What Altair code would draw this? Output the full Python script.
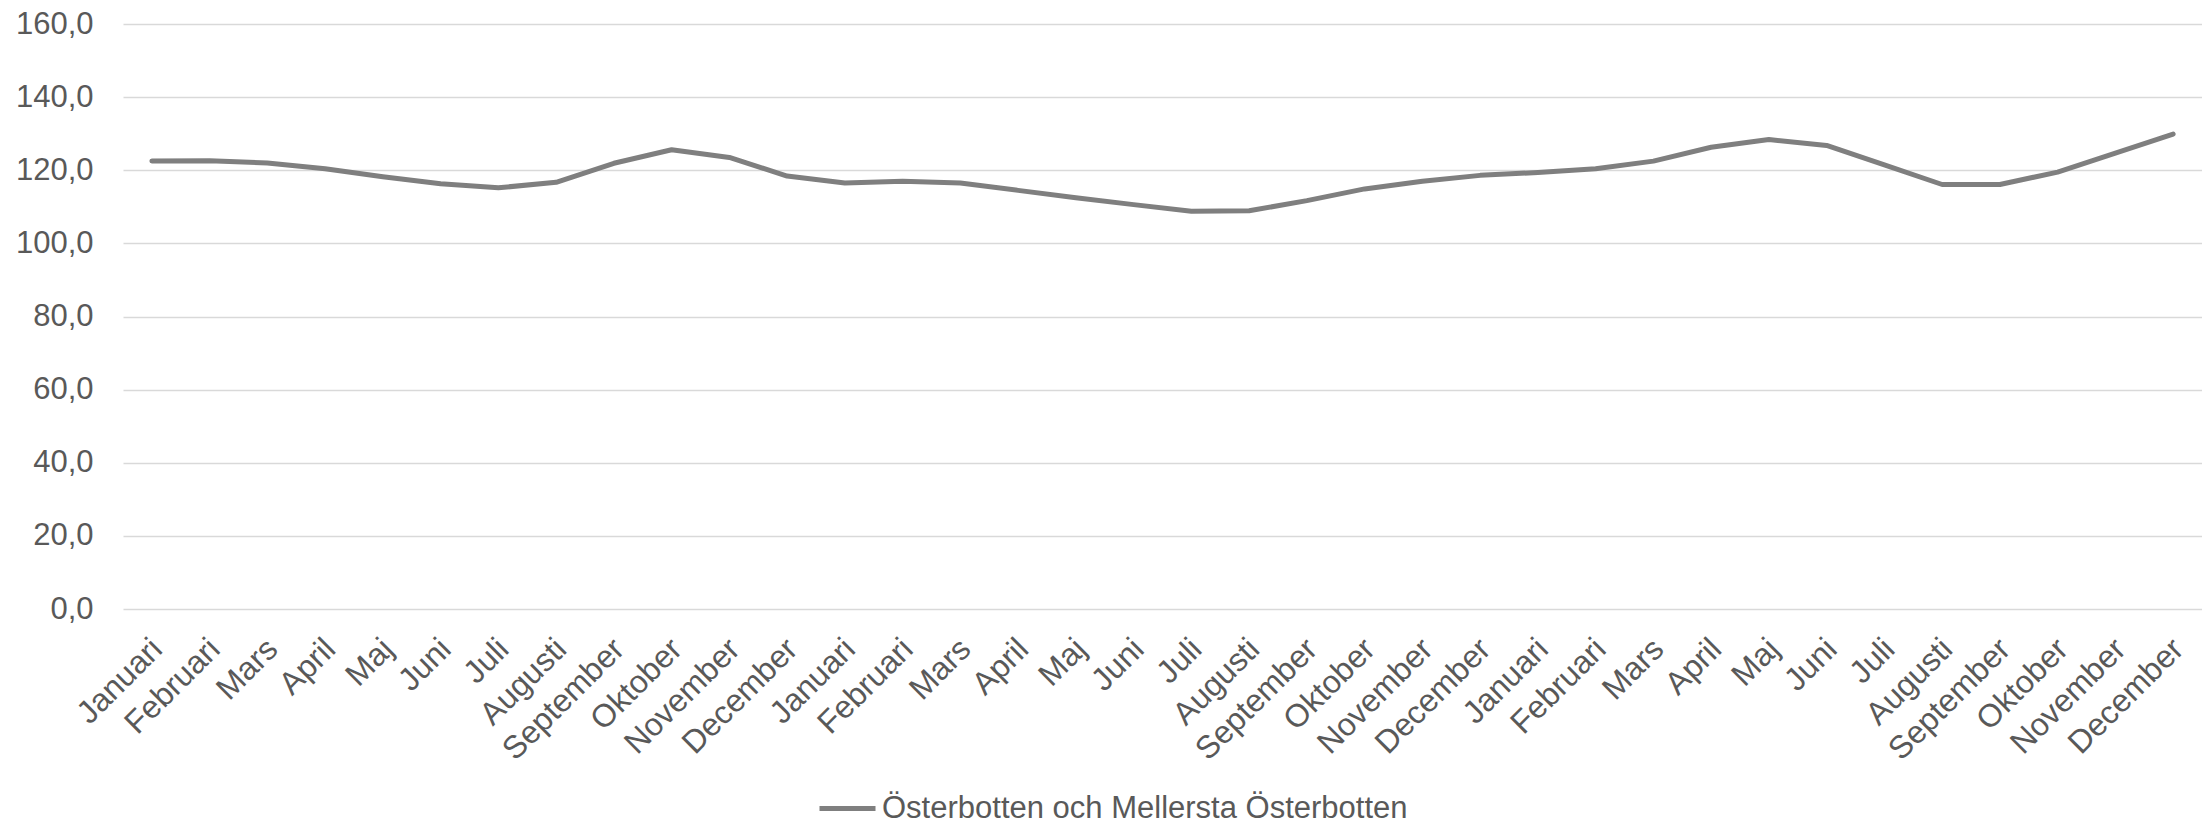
import altair as alt
import pandas as pd

months = ["Januari", "Februari", "Mars", "April", "Maj", "Juni", "Juli",
          "Augusti", "September", "Oktober", "November", "December"]
labels = months * 3
values = [122.5, 122.6, 122.0, 120.4, 118.2, 116.3, 115.2, 116.7, 121.9, 125.6, 123.5, 118.4,
          116.5, 117.0, 116.5, 114.5, 112.5, 110.6, 108.8, 108.9, 111.7, 114.9, 117.0, 118.6,
          119.4, 120.4, 122.5, 126.3, 128.4, 126.8, 121.5, 116.1, 116.1, 119.5, 124.7, 129.9]
series_name = "Österbotten och Mellersta Österbotten"
y_ticks = [0, 20, 40, 60, 80, 100, 120, 140, 160]

keys = [f"{i:02d}|{m}" for i, m in enumerate(labels)]
df = pd.DataFrame({"key": keys, "value": values, "serie": series_name})

FONT = "Liberation Sans"
GREY = "#595959"

chart = alt.Chart(df).mark_line(strokeWidth=5, strokeCap="round", strokeJoin="round").encode(
    x=alt.X("key:N", sort=keys, title=None,
            scale=alt.Scale(paddingInner=0, paddingOuter=0),
            axis=alt.Axis(labelExpr="split(datum.label, '|')[1]", labelAngle=-45,
                          labelAlign="right", labelBaseline="top", labelPadding=24,
                          labelOffset=-6,
                          labelFontSize=32, labelColor=GREY, labelFont=FONT,
                          ticks=False, domain=False, grid=False, labelOverlap=False,
                          labelBound=False, labelFlush=False, bandPosition=0.5)),
    y=alt.Y("value:Q", title=None,
            scale=alt.Scale(domain=[0, 160], nice=False, zero=True),
            axis=alt.Axis(values=y_ticks,
                          labelExpr="replace(format(datum.value, '.1f'), '.', ',')",
                          labelFontSize=31, labelColor=GREY, labelFont=FONT,
                          labelPadding=30, ticks=False, domain=False,
                          grid=True, gridColor="#d9d9d9", gridWidth=1.5)),
    color=alt.Color("serie:N", scale=alt.Scale(range=["#7f7f7f"]),
                    legend=alt.Legend(title=None, orient="none", legendX=694, legendY=754,
                                      padding=0,
                                      symbolType="stroke", symbolSize=3136,
                                      symbolStrokeWidth=5, labelFontSize=31,
                                      labelColor=GREY, labelFont=FONT, labelOffset=4,
                                      labelLimit=1000)),
).properties(
    width=2079, height=585,
    autosize=alt.AutoSizeParams(type="none"),
    padding={"left": 115, "top": 16, "right": 0, "bottom": 215},
).configure(background="white", view=alt.ViewConfig(stroke=None))

chart.save("out.html", embed_options={"renderer": "svg", "actions": False})
